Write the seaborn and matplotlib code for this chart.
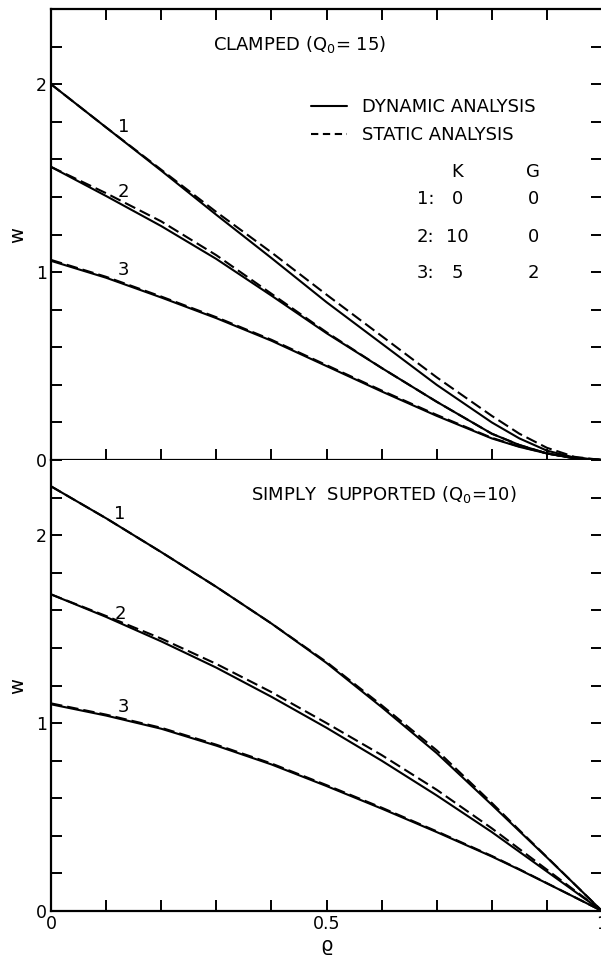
import numpy as np
import pandas as pd
import seaborn as sns
from matplotlib import pyplot as plt
from matplotlib.lines import Line2D

# radial coordinate
rho = [0, 0.1, 0.2, 0.3, 0.4, 0.5, 0.6, 0.7, 0.8, 0.85, 0.9, 0.95, 1.0]

# clamped plate (Q0 = 15)
cl_dyn_1 = [2.0, 1.77, 1.54, 1.305, 1.075, 0.84, 0.62, 0.40, 0.20, 0.115, 0.05, 0.013, 0.0]
cl_sta_1 = [2.0, 1.77, 1.545, 1.32, 1.105, 0.88, 0.66, 0.44, 0.235, 0.14, 0.065, 0.017, 0.0]
cl_dyn_2 = [1.56, 1.405, 1.245, 1.07, 0.875, 0.675, 0.49, 0.31, 0.14, 0.08, 0.035, 0.009, 0.0]
cl_sta_2 = [1.56, 1.42, 1.27, 1.09, 0.885, 0.68, 0.49, 0.31, 0.14, 0.08, 0.035, 0.009, 0.0]
cl_dyn_3 = [1.06, 0.97, 0.865, 0.755, 0.635, 0.50, 0.365, 0.235, 0.115, 0.07, 0.035, 0.01, 0.0]
cl_sta_3 = [1.065, 0.975, 0.87, 0.76, 0.64, 0.505, 0.37, 0.24, 0.118, 0.072, 0.036, 0.01, 0.0]

# simply supported plate (Q0 = 10)
ss_dyn_1 = [2.26, 2.09, 1.91, 1.725, 1.53, 1.32, 1.085, 0.84, 0.565, 0.425, 0.285, 0.143, 0.0]
ss_sta_1 = [2.26, 2.09, 1.91, 1.725, 1.53, 1.325, 1.095, 0.855, 0.575, 0.43, 0.287, 0.143, 0.0]
ss_dyn_2 = [1.685, 1.565, 1.435, 1.295, 1.14, 0.975, 0.80, 0.615, 0.42, 0.315, 0.21, 0.105, 0.0]
ss_sta_2 = [1.685, 1.57, 1.45, 1.315, 1.165, 1.0, 0.83, 0.645, 0.44, 0.33, 0.22, 0.11, 0.0]
ss_dyn_3 = [1.10, 1.04, 0.97, 0.88, 0.78, 0.665, 0.545, 0.42, 0.29, 0.22, 0.147, 0.074, 0.0]
ss_sta_3 = [1.105, 1.045, 0.975, 0.885, 0.785, 0.67, 0.55, 0.424, 0.293, 0.222, 0.148, 0.074, 0.0]

x_ticks = [0, 0.1, 0.2, 0.3, 0.4, 0.5, 0.6, 0.7, 0.8, 0.9, 1.0]
x_ticklabels = ['0', '', '', '', '', '0.5', '', '', '', '', '1']
y_ticks = [0, 0.2, 0.4, 0.6, 0.8, 1.0, 1.2, 1.4, 1.6, 1.8, 2.0, 2.2, 2.4]
y_ticklabels = ['0', '', '', '', '', '1', '', '', '', '', '2', '', '']

curve_ids = ['1', '2', '3']
table_k = ['0', '10', '5']
table_g = ['0', '0', '2']

sns.set_style('ticks')
plt.rcParams['font.family'] = ['DejaVu Sans']
plt.rcParams['font.size'] = 13
for key in ('text.color', 'axes.labelcolor', 'xtick.color', 'ytick.color', 'axes.edgecolor'):
    plt.rcParams[key] = 'black'

fig = plt.figure(figsize=(6.01, 9.63), dpi=100)
ax_top = fig.add_axes([0.0849, 0.5223, 0.9168, 0.4683])
ax_bot = fig.add_axes([0.0849, 0.0540, 0.9168, 0.4683])

LW = 1.5
DASH = (5.5, 2.4)
FS = 13


def draw(ax, dyn, sta):
    for d, s in zip(dyn, sta):
        df = pd.DataFrame({'rho': rho, 'dyn': d, 'sta': s})
        sns.lineplot(data=df, x='rho', y='dyn', ax=ax, color='black', lw=LW,
                     estimator=None, sort=False)
        sns.lineplot(data=df, x='rho', y='sta', ax=ax, color='black', lw=LW,
                     estimator=None, sort=False)
        ax.lines[-1].set_dashes(DASH)


draw(ax_top, [cl_dyn_1, cl_dyn_2, cl_dyn_3], [cl_sta_1, cl_sta_2, cl_sta_3])
draw(ax_bot, [ss_dyn_1, ss_dyn_2, ss_dyn_3], [ss_sta_1, ss_sta_2, ss_sta_3])

for ax in (ax_top, ax_bot):
    ax.set_xlim(0, 1)
    ax.set_ylim(0, 2.4)
    ax.set_xticks(x_ticks)
    ax.set_yticks(y_ticks)
    ax.set_yticklabels(y_ticklabels)
    ax.set_ylabel('w', fontsize=14, labelpad=6)
    for sp in ax.spines.values():
        sp.set_linewidth(1.6)
    ax.spines['right'].set_visible(False)
    ax.tick_params(direction='in', length=8, width=1.4, labelsize=12.5, pad=3,
                   left=True, right=True, bottom=True)

ax_top.tick_params(top=True, labelbottom=False)
ax_bot.tick_params(top=False)
ax_bot.spines['top'].set_visible(False)
ax_bot.set_xticklabels(x_ticklabels)
ax_bot.set_xlabel('ϱ', fontsize=14, labelpad=2)
ax_top.set_xlabel('')

# titles inside panels
ax_top.text(0.452, 2.213, 'CLAMPED (Q$_0$= 15)', ha='center', va='center', fontsize=FS)
ax_bot.text(0.604, 2.219, 'SIMPLY  SUPPORTED (Q$_0$=10)', ha='center', va='center', fontsize=FS)

# curve numbers
for ax, pos in ((ax_top, [(0.131, 1.771), (0.131, 1.424), (0.132, 1.013)]),
                (ax_bot, [(0.125, 2.112), (0.125, 1.579), (0.131, 1.083)])):
    for cid, (px, py) in zip(curve_ids, pos):
        ax.text(px, py, cid, ha='center', va='center', fontsize=FS)

# legend
handles = [Line2D([], [], color='black', lw=LW),
           Line2D([], [], color='black', lw=LW, dashes=(3.5, 2.2))]
ax_top.legend(handles, ['DYNAMIC ANALYSIS', 'STATIC ANALYSIS'], loc='upper left',
              bbox_to_anchor=(0.455, 0.822), frameon=False, fontsize=FS,
              handlelength=2.0, handletextpad=0.85, labelspacing=0.55, borderpad=0)

# K / G table
ax_top.text(0.737, 1.531, 'K', ha='center', va='center', fontsize=FS)
ax_top.text(0.875, 1.531, 'G', ha='center', va='center', fontsize=FS)
for i, (cid, k, g) in enumerate(zip(curve_ids, table_k, table_g)):
    yy = [1.387, 1.189, 0.997][i]
    ax_top.text(0.68, yy, cid + ':', ha='center', va='center', fontsize=FS)
    ax_top.text(0.737, yy, k, ha='center', va='center', fontsize=FS)
    ax_top.text(0.875, yy, g, ha='center', va='center', fontsize=FS)

plt.savefig('out.png', dpi=100)
